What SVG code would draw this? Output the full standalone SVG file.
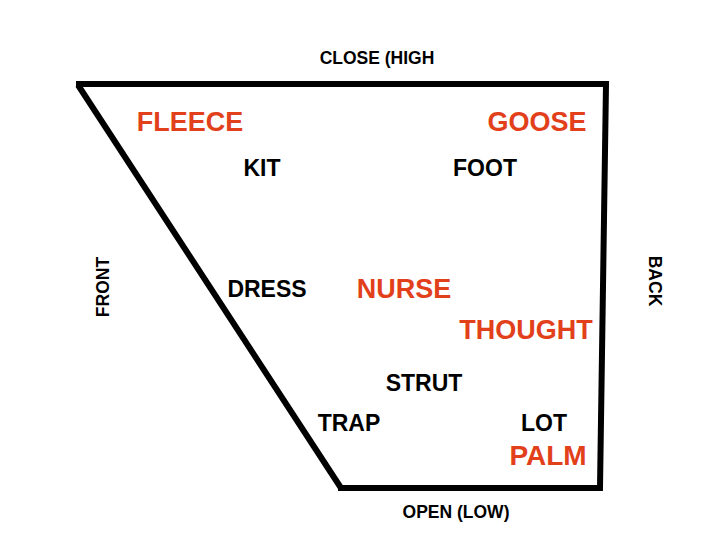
<svg xmlns="http://www.w3.org/2000/svg" width="720" height="540" viewBox="0 0 720 540">
<style>
text{font-family:"Liberation Sans",Arial,sans-serif;text-anchor:middle;font-weight:bold}
.ax{font-size:17.5px;fill:#000}
.k{font-size:23px;fill:#000}
.r{font-size:27px;fill:#E2401A}
.frame{fill:none;stroke:#000;stroke-width:6;stroke-linejoin:miter}
</style>
<rect width="720" height="540" fill="#fff"/>
<g id="chart">
<path class="frame" d="M76,84 L606,84 L600,488 L338,488 M78,85 L341,488"/>
</g>
<g id="labels">
<text class="ax" x="377" y="64">CLOSE (HIGH</text>
<text class="ax" x="456" y="518">OPEN (LOW)</text>
<text class="ax" transform="translate(109,287) rotate(-90)">FRONT</text>
<text class="ax" transform="translate(649,281) rotate(90)">BACK</text>
</g>
<g id="words">
<text class="r" x="190" y="131">FLEECE</text>
<text class="r" x="537" y="131">GOOSE</text>
<text class="k" x="262" y="176">KIT</text>
<text class="k" x="485" y="176">FOOT</text>
<text class="k" x="267" y="297">DRESS</text>
<text class="r" x="404" y="298">NURSE</text>
<text class="r" x="526" y="339">THOUGHT</text>
<text class="k" x="424" y="391">STRUT</text>
<text class="k" x="349" y="431">TRAP</text>
<text class="k" x="544" y="431">LOT</text>
<text class="r" x="548" y="465" style="font-size:28px">PALM</text>
</g>
</svg>
